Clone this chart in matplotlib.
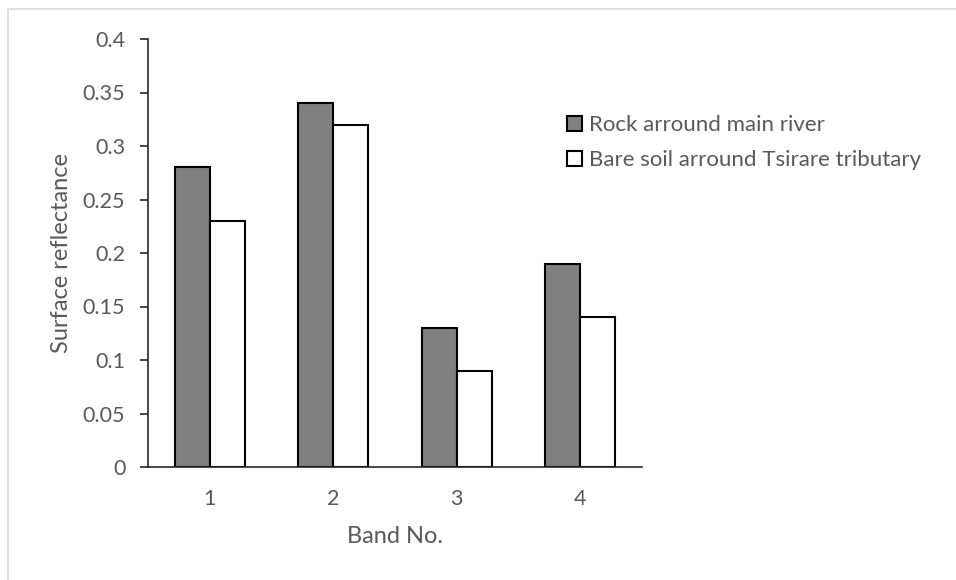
import numpy as np
import matplotlib.pyplot as plt
from matplotlib.patches import Rectangle

plt.rcParams['font.family'] = ['Lato', 'DejaVu Sans']

bands = ['1', '2', '3', '4']
rock = [0.28, 0.34, 0.13, 0.19]
bare_soil = [0.23, 0.32, 0.09, 0.14]
yticks = [0, 0.05, 0.1, 0.15, 0.2, 0.25, 0.3, 0.35, 0.4]

text_col = '#595959'
x = np.arange(len(bands))
w = 0.285

fig = plt.figure(figsize=(9.56, 5.8), dpi=100)
ax = fig.add_axes([148 / 956, 1 - 467 / 580, 494 / 956, 428 / 580])

ax.bar(x - w / 2, rock, w, color='#808080', edgecolor='black', linewidth=1.5,
       label='Rock arround main river')
ax.bar(x + w / 2, bare_soil, w, color='white', edgecolor='black', linewidth=1.5,
       label='Bare soil arround Tsirare tributary')

ax.set_xlim(-0.5, len(bands) - 0.5)
ax.set_ylim(0, 0.4)
ax.set_xticks(x)
ax.set_xticklabels(bands)
ax.set_yticks(yticks)
ax.set_yticklabels([f'{t:g}' for t in yticks])

for s in ['top', 'right']:
    ax.spines[s].set_visible(False)
ax.spines['left'].set_color('#262626')
ax.spines['bottom'].set_color('#262626')
ax.spines['left'].set_linewidth(1.2)
ax.spines['bottom'].set_linewidth(1.2)
ax.tick_params(axis='y', length=5.8, width=1.2, colors='#262626', labelcolor=text_col,
               labelsize=15.5, pad=10.5)
ax.tick_params(axis='x', length=0, labelcolor=text_col, labelsize=15.5, pad=16)

ax.set_xlabel('Band No.', color=text_col, fontsize=17, labelpad=12)
ax.set_ylabel('Surface reflectance', color=text_col, fontsize=17, labelpad=8)

fig.legend(loc='upper left', bbox_to_anchor=(567 / 956, 1 - 115 / 580),
           bbox_transform=fig.transFigure, frameon=False,
           fontsize=16, labelcolor=text_col, handlelength=0.68, handleheight=0.68,
           handletextpad=0.3, labelspacing=0.68, borderpad=0, borderaxespad=0)

# outer chart frame
fig.patches.append(Rectangle((8 / 956, -0.1), 1.2, 1 - 9 / 580 + 0.1,
                             transform=fig.transFigure, fill=False,
                             edgecolor='#d9d9d9', linewidth=1.2))

fig.savefig('out.png', dpi=100)
